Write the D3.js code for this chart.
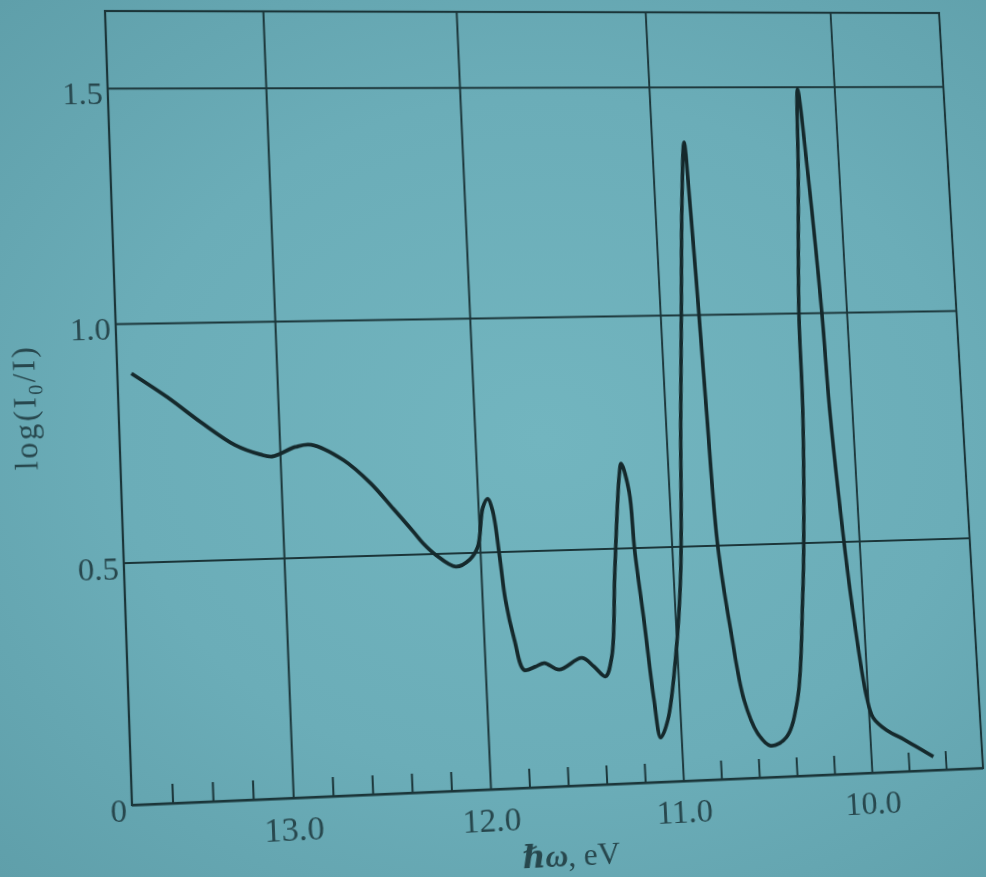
<!DOCTYPE html>
<html>
<head>
<meta charset="utf-8">
<script src="https://cdn.jsdelivr.net/npm/d3@7"></script>
<style>
    html, body { margin: 0; padding: 0; }
    body {
        width: 986px; height: 877px; overflow: hidden; position: relative;
        background: radial-gradient(ellipse at 55% 50%, #72b5bf 0%, #6badb8 55%, #5f9faa 100%);
    }
    #chart { position: absolute; left: 0; top: 0; transform-origin: 0 0; filter: blur(0.6px); }
    text { font-family: "Liberation Serif", "DejaVu Serif", serif; fill: #27474d; }
</style>
</head>
<body>
<svg id="chart" width="1100" height="1000"></svg>
<script>
// photon energy (eV) and absorbance
const energy = [13.73, 13.556, 13.39, 13.225, 13.10, 13.04, 12.92, 12.84, 12.68, 12.547,
    12.435, 12.337, 12.29, 12.228, 12.128, 12.055, 12.011, 11.976, 11.949, 11.926,
    11.90, 11.88, 11.843, 11.80, 11.742, 11.694, 11.619, 11.498, 11.438, 11.38,
    11.342, 11.306, 11.258, 11.245, 11.21, 11.196, 11.164, 11.133, 11.107, 11.066,
    11.008, 10.96, 10.92, 10.888, 10.855, 10.827, 10.812, 10.794, 10.78, 10.757,
    10.71, 10.66, 10.597, 10.531, 10.445, 10.376, 10.32, 10.298, 10.265, 10.258,
    10.22, 10.20, 10.17, 10.134, 10.12, 10.082, 10.053, 10.006, 9.977, 9.909,
    9.82, 9.665];
const logRatio = [0.895, 0.844, 0.789, 0.74, 0.719, 0.714, 0.733, 0.737, 0.703, 0.653,
    0.597, 0.547, 0.522, 0.497, 0.471, 0.485, 0.511, 0.594, 0.613, 0.588,
    0.489, 0.397, 0.312, 0.248, 0.254, 0.261, 0.246, 0.269, 0.25, 0.228,
    0.27, 0.447, 0.656, 0.681, 0.62, 0.495, 0.339, 0.175, 0.094, 0.13,
    0.264, 0.442, 0.766, 1.0, 1.243, 1.378, 1.243, 1.0, 0.79, 0.5,
    0.313, 0.168, 0.095, 0.067, 0.084, 0.163, 0.379, 0.5, 0.79, 1.0,
    1.316, 1.495, 1.316, 1.0, 0.786, 0.5, 0.342, 0.163, 0.118, 0.09,
    0.069, 0.029];

const xMajor = [13.0, 12.0, 11.0, 10.0];
const xMajorLabels = ["13.0", "12.0", "11.0", "10.0"];
const xMinor = [13.6, 13.4, 13.2, 12.8, 12.6, 12.4, 12.2, 11.8, 11.6, 11.4, 11.2,
    10.8, 10.6, 10.4, 10.2, 9.8, 9.6];
const yMajor = [0, 0.5, 1.0, 1.5];
const yMajorLabels = ["0", "0.5", "1.0", "1.5"];

var plotL = 105, plotT = 11, plotR = 975, plotB = 805;
var ink = "#1b3539";

var svg = d3.select('#chart');

var x = d3.scaleLinear().domain([13.8, 9.4]).range([plotL, plotR]);
var y = d3.scaleLinear().domain([0, 1.665]).range([plotB, plotT]);

// horizontal grid
svg.append("g")
    .attr("transform", "translate(" + plotL + ",0)")
    .call(d3.axisLeft(y).tickValues(yMajor).tickSize(-(plotR - plotL)).tickFormat(""))
    .call(g => g.select(".domain").remove())
    .selectAll("line").attr("stroke", ink).attr("stroke-width", 2);

// vertical grid
svg.append("g")
    .attr("transform", "translate(0," + plotB + ")")
    .call(d3.axisBottom(x).tickValues(xMajor).tickSize(-(plotB - plotT)).tickFormat(""))
    .call(g => g.select(".domain").remove())
    .selectAll("line").attr("stroke", ink).attr("stroke-width", 2);

// small ticks on the energy axis
svg.append("g")
    .attr("transform", "translate(0," + plotB + ")")
    .call(d3.axisBottom(x).tickValues(xMinor).tickSize(-19).tickFormat(""))
    .call(g => g.select(".domain").remove())
    .selectAll("line").attr("stroke", ink).attr("stroke-width", 2);

// frame
svg.append("rect")
    .attr("x", plotL).attr("y", plotT)
    .attr("width", plotR - plotL).attr("height", plotB - plotT)
    .attr("fill", "none").attr("stroke", ink).attr("stroke-width", 2.2);

// tick labels
svg.selectAll(".xlab")
    .data(xMajor)
    .enter().append("text")
    .attr("class", "xlab")
    .attr("x", d => x(d))
    .attr("y", plotB + 42)
    .attr("text-anchor", "middle")
    .attr("font-size", 34)
    .text((d, i) => xMajorLabels[i]);

svg.selectAll(".ylab")
    .data(yMajor)
    .enter().append("text")
    .attr("class", "ylab")
    .attr("x", plotL - 5)
    .attr("y", d => y(d))
    .attr("dy", "0.5em")
    .attr("text-anchor", "end")
    .attr("font-size", 32)
    .text((d, i) => yMajorLabels[i]);

// axis titles
var xt = svg.append("text")
    .attr("x", (plotL + plotR) / 2)
    .attr("y", plotB + 80)
    .attr("text-anchor", "middle")
    .attr("font-size", 32);
xt.append("tspan").attr("font-style", "italic").attr("font-weight", "bold").text("ℏω");
xt.append("tspan").text(", eV");

var yt = svg.append("text")
    .attr("transform", "translate(13,410) rotate(-90)")
    .attr("text-anchor", "middle")
    .attr("dy", "0.35em")
    .attr("font-size", 32)
    .attr("letter-spacing", 2.5);
yt.append("tspan").text("log(I");
yt.append("tspan").attr("font-size", 20).attr("dy", 7).text("0");
yt.append("tspan").attr("dy", -7).text("/I)");

// spectrum
var pts = energy.map((e, i) => [e, logRatio[i]]);
var line = d3.line()
    .x(d => x(d[0]))
    .y(d => y(d[1]))
    .curve(d3.curveCatmullRom.alpha(0.5));

svg.append("path")
    .datum(pts)
    .attr("d", line)
    .attr("fill", "none")
    .attr("stroke", "#15292c")
    .attr("stroke-width", 3.8)
    .attr("stroke-linejoin", "round");

// the page was photographed at an angle: map the flat plot frame onto the
// frame corners seen in the photo
function solveHomography(src, dst) {
    var A = [], B = [];
    for (var i = 0; i < 4; i++) {
        var sx = src[i][0], sy = src[i][1], dx = dst[i][0], dy = dst[i][1];
        A.push([sx, sy, 1, 0, 0, 0, -sx * dx, -sy * dx]); B.push(dx);
        A.push([0, 0, 0, sx, sy, 1, -sx * dy, -sy * dy]); B.push(dy);
    }
    for (var c = 0; c < 8; c++) {
        var p = c;
        for (var r = c + 1; r < 8; r++) if (Math.abs(A[r][c]) > Math.abs(A[p][c])) p = r;
        var t = A[c]; A[c] = A[p]; A[p] = t;
        var tb = B[c]; B[c] = B[p]; B[p] = tb;
        for (var r2 = 0; r2 < 8; r2++) {
            if (r2 === c) continue;
            var f = A[r2][c] / A[c][c];
            for (var k = c; k < 8; k++) A[r2][k] -= f * A[c][k];
            B[r2] -= f * B[c];
        }
    }
    return B.map((b, i) => b / A[i][i]);
}

var h = solveHomography(
    [[plotL, plotT], [plotR, plotT], [plotR, plotB], [plotL, plotB]],
    [[105, 11], [939, 13], [983, 768], [132, 805]]
);
document.getElementById('chart').style.transform =
    "matrix3d(" + [h[0], h[3], 0, h[6], h[1], h[4], 0, h[7], 0, 0, 1, 0, h[2], h[5], 0, 1].join(",") + ")";
</script>
</body>
</html>
